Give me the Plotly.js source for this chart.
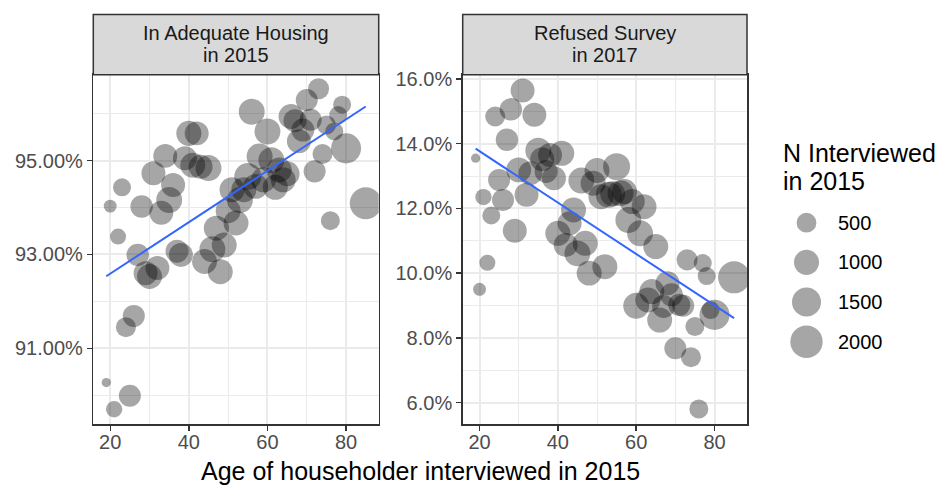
<!DOCTYPE html>
<html><head><meta charset="utf-8">
<script src="https://cdn.plot.ly/plotly-3.0.1.min.js"></script>
<style>html,body{margin:0;padding:0;background:#fff;} #chart{width:945px;height:485px;}</style>
</head><body><div id="chart"></div>
<script>
// ---- data ----
const ages = [19,20,21,22,23,24,25,26,27,28,29,30,31,32,33,34,35,36,37,38,39,40,41,42,43,44,45,46,47,48,49,50,51,52,53,54,55,56,57,58,59,60,61,62,63,64,65,66,67,68,69,70,71,72,73,74,75,76,77,78,79,80,85];
const nInterviewed = [45,120,270,250,370,515,690,690,730,730,880,990,880,880,880,880,1100,880,780,880,880,1000,990,880,880,990,1100,1100,990,990,990,990,1000,990,1100,990,1230,1100,990,1100,990,1100,1100,990,990,990,990,990,780,880,780,690,690,690,600,515,440,440,370,370,370,1640,1940];
const adequateHousing = [90.27,94.03,89.70,93.38,94.43,91.45,89.99,91.69,92.99,94.02,
  92.60,92.53,94.73,92.71,93.89,95.10,94.16,94.48,93.07,92.99,
  95.05,95.58,94.90,95.58,94.87,92.85,94.84,93.11,93.56,92.63,
  93.20,93.93,94.38,93.67,94.16,94.38,94.66,96.04,94.45,95.09,
  94.59,95.62,95.01,94.43,94.80,94.59,94.72,95.94,95.85,95.41,
  95.65,96.29,95.87,94.77,96.53,95.14,95.76,93.72,95.62,95.97,
  96.19,95.26,94.09];
const refusedSurvey = [13.55,9.50,12.35,10.32,11.78,14.84,12.88,12.26,14.12,15.06,
  11.31,13.19,15.64,12.42,13.09,14.89,13.78,13.52,13.14,13.65,
  12.93,11.23,13.70,10.87,11.54,11.95,10.61,12.86,10.92,10.00,
  12.78,13.17,12.36,10.20,12.42,12.45,13.29,12.47,12.52,11.64,
  12.21,8.99,11.23,12.05,9.17,9.43,10.82,8.55,8.97,9.69,
  9.33,7.68,9.02,8.99,10.41,7.40,8.35,5.80,10.31,9.91,
  8.86,8.71,9.87];
const stripLines = [["In Adequate Housing","in 2015"],["Refused Survey","in 2017"]];
const xTicks = [20,40,60,80];
const xMinor = [30,50,70];
const leftYTicks = [91,93,95];
const leftYMinor = [90,92,94,96];
const rightYTicks = [6,8,10,12,14,16];
const rightYMinor = [7,9,11,13,15];
const sizeBreaks = [500,1000,1500,2000];
const xTitle = "Age of householder interviewed in 2015";
const legendTitle = ["N Interviewed","in 2015"];

// ---- scales / helpers ----
const FONT = "Liberation Sans, Arial, Helvetica, sans-serif";
function sizeOf(n){ return 8 + 25*Math.sqrt(Math.max(0, n-40)/2060); }
function ols(x,y){
  const n=x.length; let mx=0,my=0;
  for(let i=0;i<n;i++){mx+=x[i];my+=y[i];} mx/=n; my/=n;
  let sxy=0,sxx=0;
  for(let i=0;i<n;i++){sxy+=(x[i]-mx)*(y[i]-my);sxx+=(x[i]-mx)*(x[i]-mx);}
  const b=sxy/sxx; return {a:my-b*mx,b:b};
}
const W=945,H=485;
const px=v=>v/W, py=v=>(H-v)/H;
const ptColor='rgba(0,0,0,0.5)';
const sizes = nInterviewed.map(sizeOf);
const xmin=Math.min(...ages), xmax=Math.max(...ages);
const fitL=ols(ages,adequateHousing), fitR=ols(ages,refusedSurvey);

// legend key area (pixels)
const keyTop=202.85, keyBot=361.55, keyStep=(keyBot-keyTop)/sizeBreaks.length;

const traces=[
  {x:ages,y:adequateHousing,xaxis:'x',yaxis:'y',type:'scatter',mode:'markers',
   marker:{size:sizes,color:ptColor,line:{width:0}},hoverinfo:'skip'},
  {x:[xmin,xmax],y:[fitL.a+fitL.b*xmin,fitL.a+fitL.b*xmax],xaxis:'x',yaxis:'y',type:'scatter',mode:'lines',
   line:{color:'#3366FF',width:2}},
  {x:ages,y:refusedSurvey,xaxis:'x2',yaxis:'y2',type:'scatter',mode:'markers',
   marker:{size:sizes,color:ptColor,line:{width:0}},hoverinfo:'skip'},
  {x:[xmin,xmax],y:[fitR.a+fitR.b*xmin,fitR.a+fitR.b*xmax],xaxis:'x2',yaxis:'y2',type:'scatter',mode:'lines',
   line:{color:'#3366FF',width:2}},
  {x:sizeBreaks.map(()=>0),y:sizeBreaks.map(String),xaxis:'x3',yaxis:'y3',type:'scatter',mode:'markers',
   marker:{size:sizeBreaks.map(sizeOf),color:ptColor,line:{width:0}},cliponaxis:false}
];

const panelL=[93.3,378.7], panelR=[462.7,747];
const panelTop=74.7, panelBot=424.3, stripTop=14.4;
const yDom=[py(panelBot),py(panelTop)];
function xAx(dom,anchor){
  return {domain:[px(dom[0]),px(dom[1])],range:[15.7,88.3],anchor:anchor,
    tickmode:'array',tickvals:xTicks,ticks:'outside',ticklen:5,tickwidth:1.4,tickcolor:'#333333',
    ticklabelstandoff:-6,
    tickfont:{family:FONT,size:20,color:'#4D4D4D'},
    showgrid:true,gridcolor:'#EBEBEB',gridwidth:2,zeroline:false,
    minor:{tickmode:'array',tickvals:xMinor,showgrid:true,gridcolor:'#EBEBEB',gridwidth:1,ticks:''},
    showline:true,mirror:true,linecolor:'#333333',linewidth:1.5,fixedrange:true};
}
function yAx(range,ticks,minor,fmt,anchor){
  return {domain:yDom,range:range,anchor:anchor,
    tickmode:'array',tickvals:ticks,ticktext:ticks.map(v=>v.toFixed(fmt)+'%'),
    ticks:'outside',ticklen:5,tickwidth:1.4,tickcolor:'#333333',
    tickfont:{family:FONT,size:20,color:'#4D4D4D'},
    showgrid:true,gridcolor:'#EBEBEB',gridwidth:2,zeroline:false,
    minor:{tickmode:'array',tickvals:minor,showgrid:true,gridcolor:'#EBEBEB',gridwidth:1,ticks:''},
    showline:true,mirror:true,linecolor:'#333333',linewidth:1.5,fixedrange:true};
}

const shapes=[panelL,panelR].map(p=>({type:'rect',xref:'paper',yref:'paper',
  x0:px(p[0]),x1:px(p[1]),y0:py(panelTop),y1:py(stripTop),
  fillcolor:'#D9D9D9',line:{color:'#333333',width:1.5},layer:'above'}));

const annotations=[];
[panelL,panelR].forEach((p,i)=>{
  const cx=px((p[0]+p[1])/2);
  annotations.push({xref:'paper',yref:'paper',x:cx,y:py(33),xanchor:'center',yanchor:'middle',showarrow:false,
    text:stripLines[i][0],font:{family:FONT,size:20,color:'#1A1A1A'}});
  annotations.push({xref:'paper',yref:'paper',x:cx,y:py(55),xanchor:'center',yanchor:'middle',showarrow:false,
    text:stripLines[i][1],font:{family:FONT,size:20,color:'#1A1A1A'}});
});
annotations.push({xref:'paper',yref:'paper',x:px((panelL[0]+panelR[1])/2),y:py(471),xanchor:'center',yanchor:'middle',
  showarrow:false,text:xTitle,font:{family:FONT,size:25,color:'#000000'}});
annotations.push({xref:'paper',yref:'paper',x:px(781),y:py(153),xanchor:'left',yanchor:'middle',
  showarrow:false,text:legendTitle[0],font:{family:FONT,size:25,color:'#000000'}});
annotations.push({xref:'paper',yref:'paper',x:px(781),y:py(181),xanchor:'left',yanchor:'middle',
  showarrow:false,text:legendTitle[1],font:{family:FONT,size:25,color:'#000000'}});
sizeBreaks.forEach((b,i)=>{
  annotations.push({xref:'paper',yref:'paper',x:px(836),y:py(keyTop+(i+0.5)*keyStep),xanchor:'left',yanchor:'middle',
    showarrow:false,text:String(b),font:{family:FONT,size:20,color:'#000000'}});
});

const layout={width:W,height:H,margin:{l:0,r:0,t:0,b:0},paper_bgcolor:'#ffffff',plot_bgcolor:'#ffffff',
  showlegend:false,
  xaxis:xAx(panelL,'y'), yaxis:yAx([89.38,96.83],leftYTicks,leftYMinor,2,'x'),
  xaxis2:xAx(panelR,'y2'), yaxis2:yAx([5.33,16.13],rightYTicks,rightYMinor,1,'x2'),
  xaxis3:{domain:[px(790),px(823)],range:[-1,1],visible:false,anchor:'y3',fixedrange:true},
  yaxis3:{domain:[py(keyBot),py(keyTop)],type:'category',range:[3.5,-0.5],visible:false,anchor:'x3',fixedrange:true},
  shapes:shapes, annotations:annotations};

Plotly.newPlot('chart',traces,layout,{displayModeBar:false,staticPlot:true});
</script></body></html>
